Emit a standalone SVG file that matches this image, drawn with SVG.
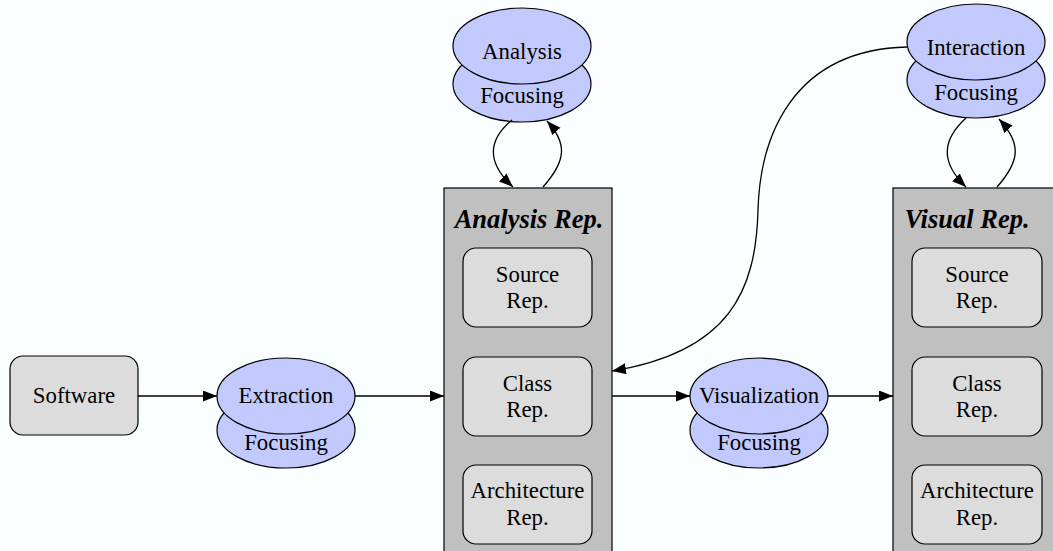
<svg xmlns="http://www.w3.org/2000/svg" width="1053" height="551" viewBox="0 0 1053 551">
<defs>
<style>
.bg{fill:#fafeff}
.box{fill:#dcdcdc;stroke:#000;stroke-width:1.2}
.cont{fill:#c0c0c0;stroke:#000;stroke-width:1.2}
.ell{fill:#c2c9fd;stroke:#000;stroke-width:1.2}
.t{font-family:'Liberation Serif','Tinos','Times New Roman','DejaVu Serif',serif;font-size:22.8px;fill:#000;text-anchor:middle}
.title{font-family:'Liberation Serif','Tinos','Times New Roman','DejaVu Serif',serif;font-size:26.5px;font-weight:bold;font-style:italic;fill:#000;text-anchor:middle}
.edge{fill:none;stroke:#000;stroke-width:1.3}
</style>
<marker id="arr" markerUnits="userSpaceOnUse" markerWidth="15" markerHeight="12" refX="14" refY="5.5" orient="auto">
<path d="M0,0 L14,5.5 L0,11 z" fill="#000"/>
</marker>
</defs>
<rect class="bg" x="0" y="0" width="1053" height="551"/>

<g id="software">
<rect class="box" x="10" y="356" width="128" height="79" rx="13"/>
<text class="t" x="74" y="403">Software</text>
</g>

<g id="extraction">
<ellipse class="ell" cx="286" cy="430" rx="69" ry="38"/>
<ellipse class="ell" cx="286" cy="396" rx="69" ry="38"/>
<text class="t" x="286" y="403">Extraction</text>
<text class="t" x="286" y="450">Focusing</text>
</g>

<g id="analysis-rep">
<rect class="cont" x="444" y="188" width="168" height="380"/>
<text class="title" x="529" y="228">Analysis Rep.</text>
<g id="a-source">
<rect class="box" x="463" y="248" width="129" height="79" rx="13"/>
<text class="t" x="527.5" y="282">Source</text>
<text class="t" x="527.5" y="308">Rep.</text>
</g>
<g id="a-class">
<rect class="box" x="463" y="357" width="129" height="79" rx="13"/>
<text class="t" x="527.5" y="391">Class</text>
<text class="t" x="527.5" y="417">Rep.</text>
</g>
<g id="a-arch">
<rect class="box" x="463" y="465" width="129" height="79" rx="13"/>
<text class="t" x="527.5" y="498">Architecture</text>
<text class="t" x="527.5" y="525">Rep.</text>
</g>
</g>

<g id="analysis-focusing">
<ellipse class="ell" cx="522" cy="84" rx="69" ry="38"/>
<ellipse class="ell" cx="522" cy="46" rx="69" ry="38"/>
<text class="t" x="522" y="59">Analysis</text>
<text class="t" x="522" y="103">Focusing</text>
</g>

<g id="visualization">
<ellipse class="ell" cx="759" cy="430" rx="69" ry="38"/>
<ellipse class="ell" cx="759" cy="396" rx="69" ry="38"/>
<text class="t" x="759" y="403">Visualization</text>
<text class="t" x="759" y="450">Focusing</text>
</g>

<g id="visual-rep">
<rect class="cont" x="893" y="188" width="175" height="380"/>
<text class="title" x="967" y="228">Visual Rep.</text>
<g id="v-source">
<rect class="box" x="912" y="248" width="130" height="79" rx="13"/>
<text class="t" x="977" y="282">Source</text>
<text class="t" x="977" y="308">Rep.</text>
</g>
<g id="v-class">
<rect class="box" x="912" y="357" width="130" height="79" rx="13"/>
<text class="t" x="977" y="391">Class</text>
<text class="t" x="977" y="417">Rep.</text>
</g>
<g id="v-arch">
<rect class="box" x="912" y="465" width="130" height="79" rx="13"/>
<text class="t" x="977" y="498">Architecture</text>
<text class="t" x="977" y="525">Rep.</text>
</g>
</g>

<g id="interaction-focusing">
<ellipse class="ell" cx="976" cy="80" rx="69" ry="38"/>
<ellipse class="ell" cx="976" cy="42" rx="69" ry="38"/>
<text class="t" x="976" y="55">Interaction</text>
<text class="t" x="976" y="100">Focusing</text>
</g>

<g id="connectors">
<path class="edge" d="M138,396 L217,396" marker-end="url(#arr)"/>
<path class="edge" d="M355,396 L444,396" marker-end="url(#arr)"/>
<path class="edge" d="M612,396 L690,396" marker-end="url(#arr)"/>
<path class="edge" d="M828,396 L893,396" marker-end="url(#arr)"/>
<path class="edge" d="M512,120 C488,140 486,162 513,187" marker-end="url(#arr)"/>
<path class="edge" d="M543,187 C567,160 567,143 547,121" marker-end="url(#arr)"/>
<path class="edge" d="M966,118 C942,140 940,162 966,187" marker-end="url(#arr)"/>
<path class="edge" d="M997,187 C1021,160 1021,143 999,119" marker-end="url(#arr)"/>
<path class="edge" d="M907,47 C790,50 760,140 758,210 C756,290 730,352 612,371" marker-end="url(#arr)"/>
</g>
</svg>
